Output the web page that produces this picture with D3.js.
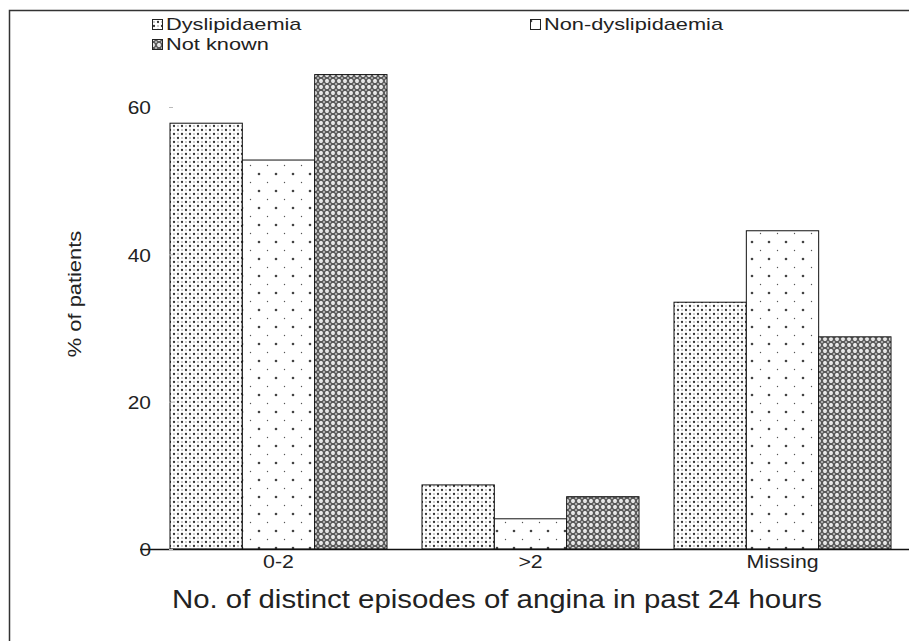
<!DOCTYPE html>
<html><head><meta charset="utf-8">
<script src="https://cdn.jsdelivr.net/npm/d3@7/dist/d3.min.js"></script>
<style>body{margin:0;background:#fff}svg{display:block}text{font-family:"Liberation Sans",Arial,Helvetica,sans-serif;fill:#222}</style>
</head><body>
<svg id="chart" width="909" height="641"></svg>
<script>
const categories = ["0-2", ">2", "Missing"];
const seriesNames = ["Dyslipidaemia", "Non-dyslipidaemia", "Not known"];
const dyslipidaemia = [57.8, 8.7, 33.5];
const nonDyslipidaemia = [52.8, 4.1, 43.2];
const notKnown = [64.4, 7.1, 28.8];
const yTicks = [0, 20, 40, 60];
const seriesValues = [dyslipidaemia, nonDyslipidaemia, notKnown];

const svg = d3.select("#chart");
const defs = svg.append("defs");

// patterns
const p1 = defs.append("pattern").attr("id","pat0").attr("patternUnits","userSpaceOnUse").attr("width",8).attr("height",8);
p1.append("rect").attr("width",8).attr("height",8).attr("fill","#fff");
[[2,2],[6,6]].forEach(([x,y])=>p1.append("circle").attr("cx",x).attr("cy",y).attr("r",1.15).attr("fill","#333"));
[[6,2],[2,6]].forEach(([x,y])=>p1.append("circle").attr("cx",x).attr("cy",y).attr("r",0.65).attr("fill","#666"));

const p2 = defs.append("pattern").attr("id","pat1").attr("patternUnits","userSpaceOnUse").attr("width",17).attr("height",17);
p2.append("rect").attr("width",17).attr("height",17).attr("fill","#fff");
p2.append("circle").attr("cx",4).attr("cy",4).attr("r",1.3).attr("fill","#444");
p2.append("circle").attr("cx",12.5).attr("cy",12.5).attr("r",0.7).attr("fill","#555");

const p3 = defs.append("pattern").attr("id","pat2").attr("patternUnits","userSpaceOnUse").attr("width",6).attr("height",6);
p3.append("rect").attr("width",6).attr("height",6).attr("fill","#5a5a5a");
p3.append("circle").attr("cx",3).attr("cy",3).attr("r",1.9).attr("fill","#fff");
p3.append("circle").attr("cx",3).attr("cy",3).attr("r",0.6).attr("fill","#999");
[[0,0],[6,0],[0,6],[6,6]].forEach(([x,y])=>p3.append("circle").attr("cx",x).attr("cy",y).attr("r",1.1).attr("fill","#c0c0c0"));

const fills = ["url(#pat0)","url(#pat1)","url(#pat2)"];

// frame
svg.append("path").attr("d","M9.5,641 V10.5 H909").attr("fill","none").attr("stroke","#333").attr("stroke-width",1.5);

const y = d3.scaleLinear().domain([0,60]).range([549,107]);
const x0 = d3.scaleBand().domain(categories).range([170,891]).paddingInner(0.1389).paddingOuter(0);
const x1 = d3.scaleBand().domain(seriesNames).range([0,x0.bandwidth()]).padding(0);

function stretch(sel, f){
  sel.each(function(){ const w=this.getComputedTextLength(); d3.select(this).attr("textLength",w*f).attr("lengthAdjust","spacingAndGlyphs"); });
}

// bars
const g = svg.append("g");
categories.forEach((c,ci)=>{
  seriesNames.forEach((s,si)=>{
    g.append("rect")
      .attr("x", x0(c)+x1(s)).attr("width", x1.bandwidth())
      .attr("y", y(seriesValues[si][ci])).attr("height", y(0)-y(seriesValues[si][ci]))
      .attr("fill", fills[si]).attr("stroke","#111").attr("stroke-width",1);
  });
});

// baseline
svg.append("line").attr("x1",140).attr("x2",909).attr("y1",y(0)+0.5).attr("y2",y(0)+0.5).attr("stroke","#111").attr("stroke-width",1.3);

// y axis ticks
const yAxis = d3.axisLeft(y).tickValues(yTicks).tickSize(4).tickPadding(18);
const ya = svg.append("g").attr("transform","translate(173,0)").call(yAxis);
ya.select(".domain").remove();
ya.selectAll(".tick line").attr("stroke","#bbb");
ya.selectAll(".tick text").attr("font-size",19).attr("font-family","Liberation Sans, Arial, sans-serif").attr("fill","#222").attr("dy","0.36em");
stretch(ya.selectAll(".tick text"),1.1);

// x axis labels
const xa = svg.append("g").attr("transform",`translate(0,${y(0)})`).call(d3.axisBottom(x0).tickSize(0).tickPadding(6));
xa.select(".domain").remove();
xa.selectAll(".tick text").attr("font-size",19).attr("font-family","Liberation Sans, Arial, sans-serif").attr("fill","#222").attr("dy","0.71em");
stretch(xa.selectAll(".tick text"),1.12);

// axis titles
const xt = svg.append("text").attr("x",497).attr("y",608).attr("text-anchor","middle").attr("font-size",26).text("No. of distinct episodes of angina in past 24 hours");
stretch(xt,1.13);
const yt = svg.append("text").attr("transform","translate(81,294) rotate(-90)").attr("text-anchor","middle").attr("font-size",19).text("% of patients");
stretch(yt,1.15);

// legend
const legendPos = [[152,19],[530,19],[152,39]];
seriesNames.forEach((s,i)=>{
  const [lx,ly] = legendPos[i];
  svg.append("rect").attr("x",lx+0.5).attr("y",ly+0.5).attr("width",10).attr("height",10).attr("fill",fills[i]).attr("stroke","#222").attr("stroke-width",1);
  const t = svg.append("text").attr("x",lx+14).attr("y",ly+11).attr("font-size",17).text(s);
  stretch(t,1.28);
});
</script>
</body></html>
